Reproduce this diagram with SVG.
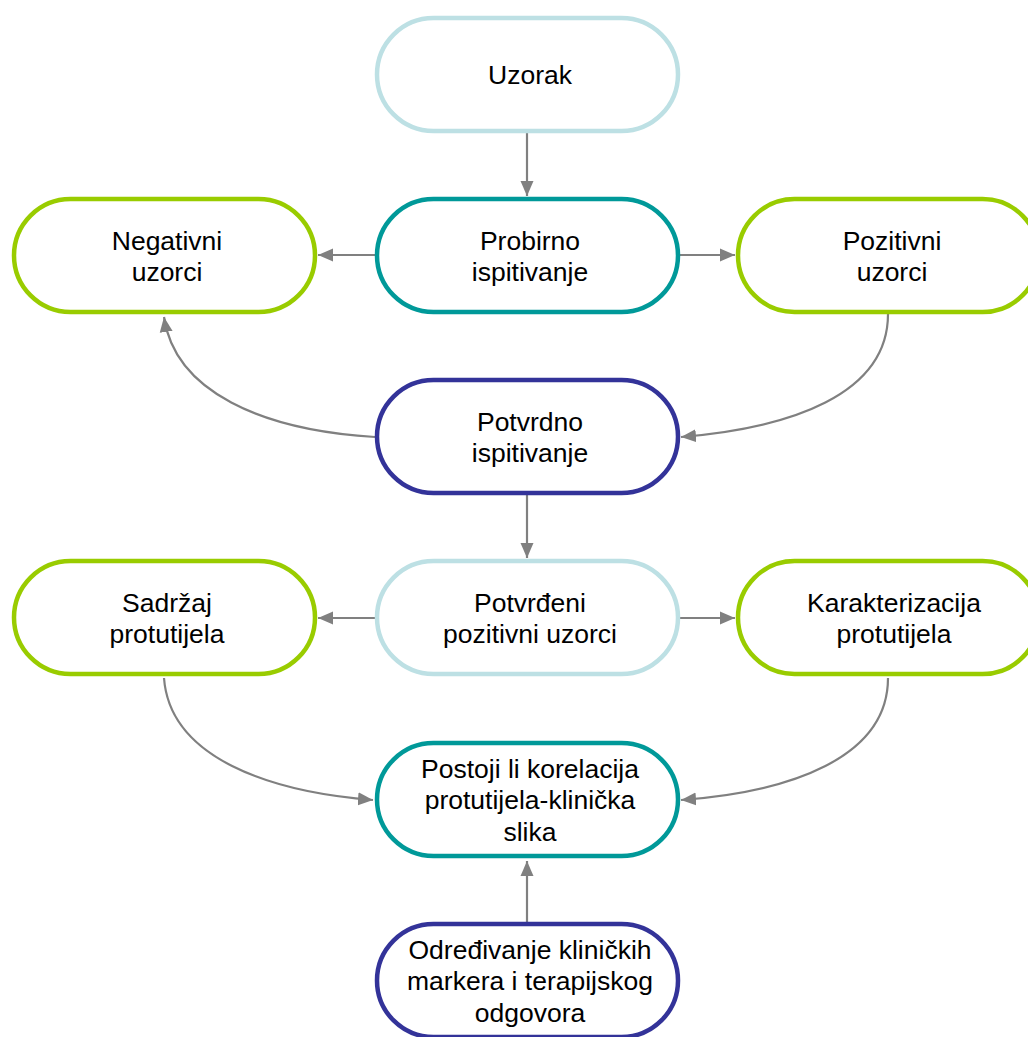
<svg xmlns="http://www.w3.org/2000/svg" width="1028" height="1037" viewBox="0 0 1028 1037">
<style>
.n rect{fill:#fff;stroke-width:4.5}
.lb rect{stroke:#bde0e4}
.tl rect{stroke:#009999}
.gr rect{stroke:#99cc00}
.nv rect{stroke:#333399}
text{font-family:"Liberation Sans",Arial,sans-serif;font-size:26.5px;fill:#000;text-anchor:middle}
.c path{fill:none;stroke:#808080;stroke-width:2.2}
</style>
<defs>
<marker id="a" markerUnits="userSpaceOnUse" markerWidth="16" markerHeight="14" refX="15" refY="7" orient="auto">
<path d="M0,0.5 L15,7 L0,13.5 z" fill="#808080"/>
</marker>
</defs>
<rect width="1028" height="1037" fill="#fff"/>
<g class="c">
<path d="M527,133 L527,196" marker-end="url(#a)"/>
<path d="M375,255 L318,255" marker-end="url(#a)"/>
<path d="M679,255 L735,255" marker-end="url(#a)"/>
<path d="M888,314 C888,395 790,428 681,437" marker-end="url(#a)"/>
<path d="M375,437 C262,430 175,392 164,317" marker-end="url(#a)"/>
<path d="M527,495 L527,558" marker-end="url(#a)"/>
<path d="M375,618 L318,618" marker-end="url(#a)"/>
<path d="M679,618 L735,618" marker-end="url(#a)"/>
<path d="M164,678 C170,758 270,792 373,800" marker-end="url(#a)"/>
<path d="M888,678 C888,758 790,792 681,800" marker-end="url(#a)"/>
<path d="M527,922 L527,861" marker-end="url(#a)"/>
</g>
<g id="uzorak" class="n lb"><rect x="377" y="18" width="301" height="113" rx="56.5"/><text x="530" y="84">Uzorak</text></g>
<g id="probirno" class="n tl"><rect x="377" y="199" width="301" height="113" rx="56.5"/><text x="530" y="250">Probirno</text><text x="530" y="281">ispitivanje</text></g>
<g id="negativni" class="n gr"><rect x="14" y="199" width="301" height="113" rx="56.5"/><text x="167" y="250">Negativni</text><text x="167" y="281">uzorci</text></g>
<g id="pozitivni" class="n gr"><rect x="738" y="199" width="301" height="113" rx="56.5"/><text x="892" y="250">Pozitivni</text><text x="892" y="281">uzorci</text></g>
<g id="potvrdno" class="n nv"><rect x="377" y="380" width="301" height="113" rx="56.5"/><text x="530" y="431">Potvrdno</text><text x="530" y="462">ispitivanje</text></g>
<g id="potvrdeni" class="n lb"><rect x="377" y="561" width="301" height="113" rx="56.5"/><text x="530" y="612">Potvrđeni</text><text x="530" y="643">pozitivni uzorci</text></g>
<g id="sadrzaj" class="n gr"><rect x="14" y="561" width="301" height="113" rx="56.5"/><text x="167" y="612">Sadržaj</text><text x="167" y="643">protutijela</text></g>
<g id="karakterizacija" class="n gr"><rect x="738" y="561" width="301" height="113" rx="56.5"/><text x="894" y="612">Karakterizacija</text><text x="894" y="643">protutijela</text></g>
<g id="postoji" class="n tl"><rect x="377" y="743" width="301" height="113" rx="56.5"/><text x="530" y="778">Postoji li korelacija</text><text x="530" y="809">protutijela-klinička</text><text x="530" y="841">slika</text></g>
<g id="odredivanje" class="n nv"><rect x="377" y="924" width="301" height="113" rx="56.5"/><text x="530" y="959">Određivanje kliničkih</text><text x="530" y="990">markera i terapijskog</text><text x="530" y="1022">odgovora</text></g>
</svg>
